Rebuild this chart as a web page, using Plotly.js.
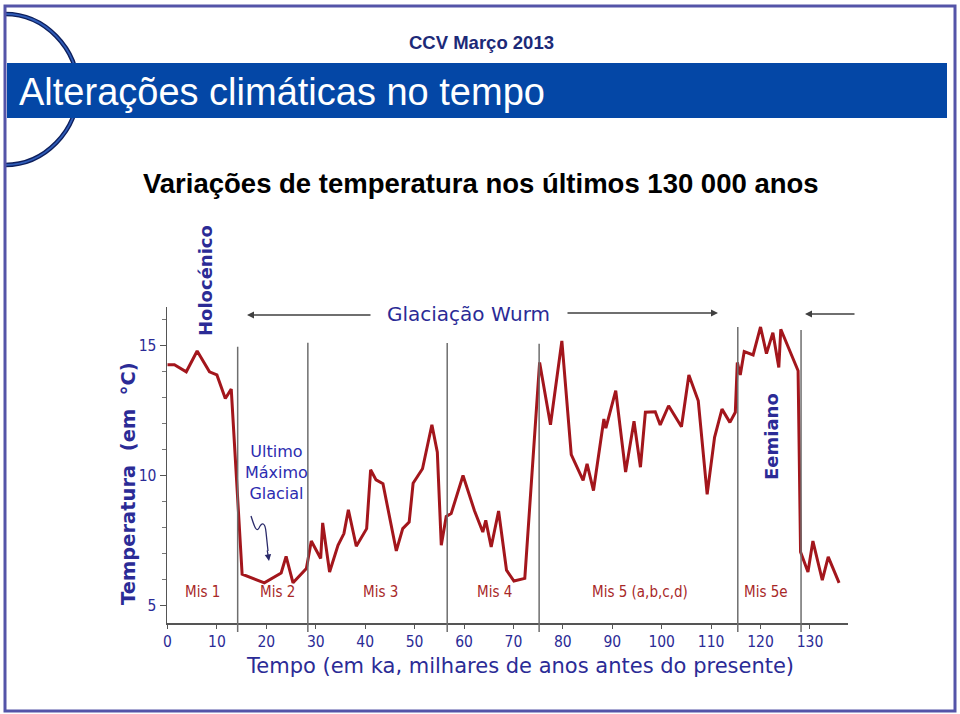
<!DOCTYPE html>
<html>
<head>
<meta charset="utf-8">
<script src="https://cdn.plot.ly/plotly-3.0.1.min.js"></script>
<style>html,body{margin:0;padding:0;background:#fff;}#chart{width:960px;height:714px;}</style>
</head>
<body>
<div id="chart"></div>
<script>
// ---- data ----
const ageKa = [0, 1.4, 3.8, 6.0, 8.5, 10.0, 11.7, 12.9, 15.1, 19.6, 23.0, 24.0, 25.4, 28.1, 29.1, 31.0, 31.4, 32.8, 34.5, 35.7, 36.6, 38.2, 40.3, 41.1, 42.2, 43.6, 46.3, 47.6, 48.9, 49.7, 51.6, 53.5, 54.6, 55.4, 56.4, 57.4, 59.8, 62.1, 63.8, 64.4, 65.5, 67.0, 68.6, 70.1, 72.3, 75.3, 77.5, 79.8, 81.7, 84.1, 84.9, 86.2, 88.3, 88.7, 90.7, 92.7, 94.4, 95.7, 96.7, 98.7, 99.7, 101.4, 104.0, 105.5, 107.4, 109.2, 110.7, 112.2, 113.8, 114.9, 115.3, 115.9, 116.7, 118.5, 120.0, 121.2, 122.5, 123.7, 124.1, 127.6, 128.1, 129.6, 130.6, 132.5, 133.7, 135.9];
const temperature = [14.27, 14.27, 14.0, 14.8, 14.0, 13.88, 12.97, 13.33, 6.19, 5.86, 6.24, 6.88, 5.86, 6.41, 7.47, 6.8, 8.17, 6.28, 7.31, 7.76, 8.68, 7.27, 7.95, 10.22, 9.83, 9.68, 7.09, 7.95, 8.2, 9.7, 10.26, 11.96, 10.9, 7.31, 8.42, 8.53, 10.0, 8.65, 7.82, 8.27, 7.24, 8.63, 6.35, 5.93, 6.03, 14.36, 11.96, 15.19, 10.81, 9.81, 10.45, 9.42, 12.18, 11.83, 13.27, 10.13, 12.09, 10.32, 12.44, 12.46, 11.95, 12.69, 11.88, 13.88, 12.88, 9.27, 11.47, 12.56, 12.05, 12.44, 14.36, 13.88, 14.78, 14.65, 15.73, 14.7, 15.51, 14.17, 15.64, 14.04, 7.05, 6.28, 7.47, 5.96, 6.86, 5.86];
const stageBoundaries = [14.2, 28.4, 56.6, 75.2, 115.4, 128.2];
const stageLabels = ['Mis 1', 'Mis 2', 'Mis 3', 'Mis 4', 'Mis 5 (a,b,c,d)', 'Mis 5e'];
const stageLabelPos = [7.0, 22.2, 43.2, 66.2, 95.7, 121.2];
const xTickVals = [0, 10, 20, 30, 40, 50, 60, 70, 80, 90, 100, 110, 120, 130];
const yTickVals = [5, 10, 15];

// ---- page geometry helpers (pixel -> paper) ----
const L = 167, R = 848, T = 307, B = 623;
const px = x => (x - L) / (R - L);
const py = y => (B - y) / (B - T);
const path = (pts) => pts.map(p => px(p[0]).toFixed(5) + ',' + py(p[1]).toFixed(5)).join(' ');

const navy = '#2b2b96';
const chartFont = 'DejaVu Sans, Verdana, sans-serif';
const tickFontFam = 'DejaVu Sans Condensed, DejaVu Sans, sans-serif';
const arial = 'Liberation Sans, Arial, sans-serif';

const stageTops = [346.7, 342.7, 343, 343.7, 327, 330];

const shapes = [];
// arc at top-left
const arcPath = 'M ' + path([[5, 14]]) + ' C ' + path([[44.2, 14], [78, 47.8], [78, 89.5]]) + ' C ' + path([[78, 131.2], [44.2, 165], [5, 165]]);
shapes.push({type: 'path', xref: 'paper', yref: 'paper', path: arcPath, line: {color: '#0d1f5c', width: 4.5}});
shapes.push({type: 'path', xref: 'paper', yref: 'paper', path: arcPath, line: {color: '#2f5cb8', width: 1.8}});
// title bar
shapes.push({type: 'rect', xref: 'paper', yref: 'paper', x0: px(7), x1: px(947), y0: py(118), y1: py(63), fillcolor: '#0447a6', line: {width: 0}});
// slide border
shapes.push({type: 'rect', xref: 'paper', yref: 'paper', x0: px(5), x1: px(955), y0: py(711), y1: py(6), line: {color: '#5454a8', width: 3}});
// stage boundary lines
stageBoundaries.forEach((b, i) => {
  shapes.push({type: 'line', xref: 'x', yref: 'paper', x0: b, x1: b, y0: py(632), y1: py(stageTops[i]), line: {color: '#6e6e6e', width: 1.5}});
});
// squiggly arrow
shapes.push({type: 'path', xref: 'paper', yref: 'paper',
  path: 'M ' + path([[251, 516]]) + ' C ' + path([[254, 525], [256, 533], [259, 528]]) + ' C ' + path([[262, 522], [265, 522], [266, 532]]) + ' L ' + path([[268, 551]]),
  line: {color: '#2a2a6a', width: 1.3}});

const annotations = [];
const ann = (o) => annotations.push(Object.assign({xref: 'paper', yref: 'paper', showarrow: false, xanchor: 'center', yanchor: 'middle'}, o));

ann({x: px(481), y: py(42), text: '<b>CCV Março 2013</b>', font: {family: arial, size: 18.5, color: '#1c2a78'}});
ann({x: px(17), y: py(92), xanchor: 'left', text: 'Alterações climáticas no tempo', font: {family: arial, size: 38, color: '#ffffff'}});
ann({x: px(481), y: py(184), text: '<b>Variações de temperatura nos últimos 130 000 anos</b>', font: {family: arial, size: 27.5, color: '#000000'}});

ann({x: px(520), y: py(666), text: 'Tempo (em ka, milhares de anos antes do presente)', font: {family: chartFont, size: 21, color: navy}});
ann({x: px(128), y: py(484), textangle: -90, text: '<b>Temperatura  (em  °C)</b>', font: {family: chartFont, size: 19.5, color: navy}});
ann({x: px(205), y: py(281), textangle: -90, text: '<b>Holocénico</b>', font: {family: chartFont, size: 18, color: navy}});
ann({x: px(771), y: py(437), textangle: -90, text: '<b>Eemiano</b>', font: {family: chartFont, size: 18, color: navy}});
ann({x: px(468), y: py(314), text: 'Glaciação Wurm', font: {family: chartFont, size: 20, color: navy}});
ann({x: px(276), y: py(472), text: 'Ultimo<br>Máximo<br>Glacial', font: {family: chartFont, size: 16, color: '#2c2cb0'}});

// arrows
const arrow = (hx, hy, tx, ty) => annotations.push({xref: 'paper', yref: 'paper', x: px(hx), y: py(hy), ax: tx - hx, ay: ty - hy, axref: 'pixel', ayref: 'pixel', text: '', showarrow: true, arrowhead: 2, arrowsize: 1, arrowwidth: 1.4, arrowcolor: '#404040'});
arrow(247, 315, 372, 315);
arrow(718, 313, 566, 313);
arrow(805, 314, 856, 314);
annotations.push({xref: 'paper', yref: 'paper', x: px(269), y: py(561), ax: -2, ay: -12, text: '', showarrow: true, arrowhead: 2, arrowsize: 1, arrowwidth: 1.3, arrowcolor: '#2a2a6a'});

// stage labels
stageLabels.forEach((s, i) => annotations.push({xref: 'x', yref: 'paper', x: stageLabelPos[i], y: py(603), text: s, showarrow: false, font: {family: tickFontFam, size: 15, color: '#a82828'}}));

const trace = {
  x: ageKa, y: temperature, type: 'scatter', mode: 'lines',
  line: {color: '#a3161c', width: 3}, hoverinfo: 'x+y'
};

const layout = {
  width: 960, height: 714,
  margin: {l: L, r: 960 - R, t: T, b: 714 - B, pad: 0},
  paper_bgcolor: '#ffffff', plot_bgcolor: '#ffffff',
  showlegend: false,
  xaxis: {
    range: [-0.1, 137.7], showgrid: false, zeroline: false,
    showline: true, linecolor: '#555555', linewidth: 1.5,
    tickmode: 'array', tickvals: xTickVals, ticks: 'outside', ticklen: 4, tickcolor: '#555555',
    tickfont: {family: tickFontFam, size: 15.5, color: navy}
  },
  yaxis: {
    range: [4.31, 16.5], showgrid: false, zeroline: false,
    showline: true, linecolor: '#555555', linewidth: 1.5,
    tickmode: 'array', tickvals: yTickVals, ticks: 'outside', ticklen: 6, tickcolor: '#555555',
    minor: {dtick: 1, tick0: 0, ticks: 'outside', ticklen: 4, tickcolor: '#777777', showgrid: false},
    tickfont: {family: tickFontFam, size: 15.5, color: navy}
  },
  shapes: shapes,
  annotations: annotations
};

Plotly.newPlot('chart', [trace], layout, {displayModeBar: false, staticPlot: true});
</script>
</body>
</html>
